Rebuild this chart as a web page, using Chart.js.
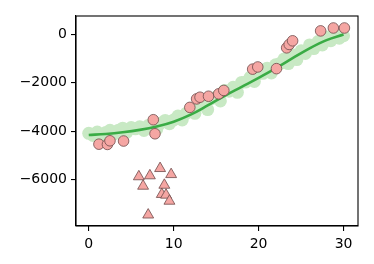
<!DOCTYPE html>
<html>
<head>
<meta charset="utf-8">
<script src="https://cdn.jsdelivr.net/npm/chart.js@4"></script>
<style>
  html, body { margin: 0; padding: 0; background: #fff; }
  #wrap { width: 374px; height: 264px; }
</style>
</head>
<body>
<div id="wrap"><canvas id="chart" width="374" height="264"></canvas></div>
<script>
// noisy observations (light green band)
const bandX = [0,0.5,1,1.5,2,2.5,3,3.5,4,4.5,5,5.5,6,6.5,7,7.5,8,8.5,9,9.5,10,10.5,11,11.5,12,12.5,13,13.5,14,14.5,15,15.5,16,16.5,17,17.5,18,18.5,19,19.5,20,20.5,21,21.5,22,22.5,23,23.5,24,24.5,25,25.5,26,26.5,27,27.5,28,28.5,29,29.5,30];
const bandY = [-4090,-4180,-4040,-4175,-4060,-3965,-4120,-3960,-3880,-4040,-3850,-3905,-3820,-3970,-3770,-3800,-3920,-3665,-3560,-3695,-3540,-3380,-3540,-3260,-3100,-3265,-2930,-2780,-3110,-2650,-2590,-2755,-2320,-2350,-2190,-2400,-1990,-1970,-1780,-1950,-1620,-1615,-1400,-1595,-1260,-1210,-1020,-1210,-850,-1045,-680,-795,-440,-590,-300,-440,-110,-265,-30,-165,-60];

// fitted curve
const fitX = [0,2,4,6,8,10,12,14,16,18,20,22,24,26,28,30];
const fitY = [-4160,-4120,-4050,-3950,-3810,-3610,-3320,-2940,-2540,-2170,-1800,-1410,-990,-580,-240,-10];

// inliers (circles)
const inX = [1.2,2.2,2.5,4.1,7.6,7.8,11.9,12.7,13.1,14.1,15.3,15.9,19.3,19.9,22.1,23.3,23.6,24.0,27.3,28.8,30.1];
const inY = [-4540,-4550,-4400,-4410,-3530,-4110,-3020,-2670,-2600,-2560,-2460,-2320,-1440,-1350,-1420,-560,-420,-270,140,260,260];

// outliers (triangles)
const outX = [5.9,7.2,8.4,9.7,6.4,8.9,8.6,9.1,9.5,7.0];
const outY = [-5880,-5840,-5540,-5790,-6270,-6230,-6610,-6640,-6890,-7460];

const xTicks = [0,10,20,30];
const yTicks = [0,-2000,-4000,-6000];

const toPts = (xs, ys) => xs.map((x, i) => ({ x: x, y: ys[i] }));

const frame = {
    id: 'frame',
    afterDatasetsDraw(chart) {
        const a = chart.chartArea;
        const ctx = chart.ctx;
        ctx.save();
        ctx.strokeStyle = '#000';
        ctx.lineWidth = 1.1;
        ctx.strokeRect(a.left, a.top, a.right - a.left, a.bottom - a.top);
        ctx.restore();
    }
};

const tickFont = { family: 'DejaVu Sans', size: 14 };

new Chart(document.getElementById('chart'), {
    type: 'scatter',
    data: {
        datasets: [
            {
                data: toPts(bandX, bandY),
                backgroundColor: 'rgb(200,233,196)',
                borderWidth: 0,
                pointRadius: 6.5,
                order: 4
            },
            {
                type: 'line',
                data: toPts(fitX, fitY),
                borderColor: '#3aac45',
                borderWidth: 2.6,
                pointRadius: 0,
                tension: 0.4,
                fill: false,
                order: 3
            },
            {
                data: toPts(inX, inY),
                backgroundColor: '#f5a6a3',
                borderColor: '#6e4a4a',
                borderWidth: 0.8,
                pointRadius: 5.3,
                order: 2
            },
            {
                data: toPts(outX, outY),
                pointStyle: 'triangle',
                backgroundColor: '#f5a6a3',
                borderColor: '#6e4a4a',
                borderWidth: 0.8,
                pointRadius: 6.3,
                order: 1
            }
        ]
    },
    options: {
        responsive: false,
        animation: false,
        layout: { padding: { left: 0, top: 16, right: 16, bottom: 0 } },
        plugins: { legend: { display: false }, tooltip: { enabled: false } },
        scales: {
            x: {
                type: 'linear',
                min: -1.5,
                max: 31.7,
                afterBuildTicks: (s) => { s.ticks = xTicks.map(v => ({ value: v })); },
                afterFit: (s) => { s.height = 38; },
                grid: { drawOnChartArea: false, drawTicks: true, tickLength: 5, color: '#000', lineWidth: 1.1 },
                border: { display: true, color: '#000', width: 1.1 },
                ticks: { color: '#000', font: tickFont, padding: 5, maxRotation: 0 }
            },
            y: {
                type: 'linear',
                min: -7920,
                max: 755,
                afterBuildTicks: (s) => { s.ticks = yTicks.map(v => ({ value: v })); },
                afterFit: (s) => { s.width = 76; },
                grid: { drawOnChartArea: false, drawTicks: true, tickLength: 5, color: '#000', lineWidth: 1.1 },
                border: { display: true, color: '#000', width: 1.1 },
                ticks: {
                    color: '#000', font: tickFont, padding: 4,
                    callback: (v) => String(v).replace('-', '\u2212')
                }
            }
        }
    },
    plugins: [frame]
});
</script>
</body>
</html>
